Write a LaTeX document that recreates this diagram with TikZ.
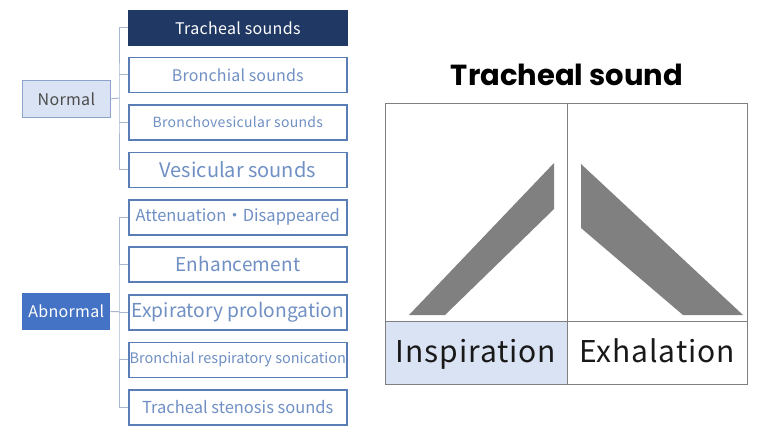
\documentclass[tikz,border=0pt]{standalone}
\usepackage{fontspec}
\setmainfont{Noto Sans CJK JP}
\newfontfamily\titlefont{Poppins}
\definecolor{navy}{HTML}{203864}
\definecolor{bordblue}{HTML}{5B7DB5}
\definecolor{txtblue}{HTML}{7090C4}
\definecolor{lineblue}{HTML}{A8B7CF}
\definecolor{lightblue}{HTML}{DAE3F3}
\definecolor{midblue}{HTML}{4472C4}
\definecolor{shapegray}{HTML}{808080}
\tikzset{
  item/.style={draw=bordblue, line width=1.6pt, fill=white, text=txtblue, minimum width=218pt, minimum height=35pt, inner sep=0pt, anchor=north west},
  cat/.style={minimum width=88pt, minimum height=37pt, inner sep=0pt, anchor=north west},
  conn/.style={draw=lineblue, line width=1pt},
  cell/.style={draw=black!50, line width=0.8pt},
  bigtext/.style={text=black!90, anchor=base, font=\fontsize{30}{34}\selectfont\addfontfeatures{LetterSpace=3}},
}
\begin{document}
\begin{tikzpicture}[x=1pt,y=-1pt]
\useasboundingbox[fill=white] (0,0) rectangle (782,440);
% categories
\node[cat, fill=lightblue, draw=bordblue!70, line width=0.8pt, text=black!70] (normal) at (22,80) {\fontsize{16}{18}\selectfont\addfontfeatures{LetterSpace=2} Normal};
\node[cat, fill=midblue, text=white] (abnormal) at (22,293) {\fontsize{16}{18}\selectfont\addfontfeatures{LetterSpace=2} Abnormal};
% normal items
\node[item, fill=navy, draw=navy, text=white] (n1) at (128,9.5) {\fontsize{16}{18}\selectfont\addfontfeatures{LetterSpace=2} Tracheal sounds};
\node[item] (n2) at (128,56.5) {\fontsize{16}{18}\selectfont\addfontfeatures{LetterSpace=1} Bronchial sounds};
\node[item] (n3) at (128,104) {\fontsize{14}{16}\selectfont\addfontfeatures{LetterSpace=2} Bronchovesicular sounds};
\node[item] (n4) at (128,151.5) {\fontsize{20}{22}\selectfont Vesicular sounds};
% abnormal items
\node[item] (a1) at (128,199) {\fontsize{16.5}{18}\selectfont Attenuation・Disappeared};
\node[item] (a2) at (128,246) {\fontsize{19}{22}\selectfont\addfontfeatures{LetterSpace=1} Enhancement};
\node[item] (a3) at (128,294) {\fontsize{19.2}{22}\selectfont Expiratory prolongation};
\node[item] (a4) at (128,341.5) {\fontsize{14.5}{16}\selectfont Bronchial respiratory sonication};
\node[item] (a5) at (128,389) {\fontsize{16.5}{18}\selectfont Tracheal stenosis sounds};
% connectors
\coordinate (nj) at (119,98);
\draw[conn] (normal.east) -- (nj);
\draw[conn] (n1.west) -| (nj) |- (n4.west);
\draw[conn] (n2.west) -- (n2.west -| nj);
\draw[conn] (n3.west) -- (n3.west -| nj);
\coordinate (aj) at (119,311.5);
\draw[conn] (abnormal.east) -- (aj);
\draw[conn] (a1.west) -| (aj) |- (a5.west);
\draw[conn] (a2.west) -- (a2.west -| aj);
\draw[conn] (a3.west) -- (a3.west -| aj);
\draw[conn] (a4.west) -- (a4.west -| aj);
% right panel
\node[font=\titlefont\bfseries\fontsize{29}{32}\selectfont, text=black] (title) at (567,75) {Tracheal sound};
\fill[lightblue] (385,321) rectangle (567,384);
\draw[cell] (385,103) rectangle (747,384);
\draw[cell] (567,103) -- (567,384);
\draw[cell] (385,321) -- (747,321);
\node[bigtext] (insp) at (476,362) {Inspiration};
\node[bigtext] (exh) at (657,362) {Exhalation};
\fill[shapegray] (409,315) -- (445,315) -- (554,209) -- (554,163) -- cycle;
\fill[shapegray] (581,164) -- (581,228) -- (683,315) -- (743,315) -- cycle;
\end{tikzpicture}
\end{document}
